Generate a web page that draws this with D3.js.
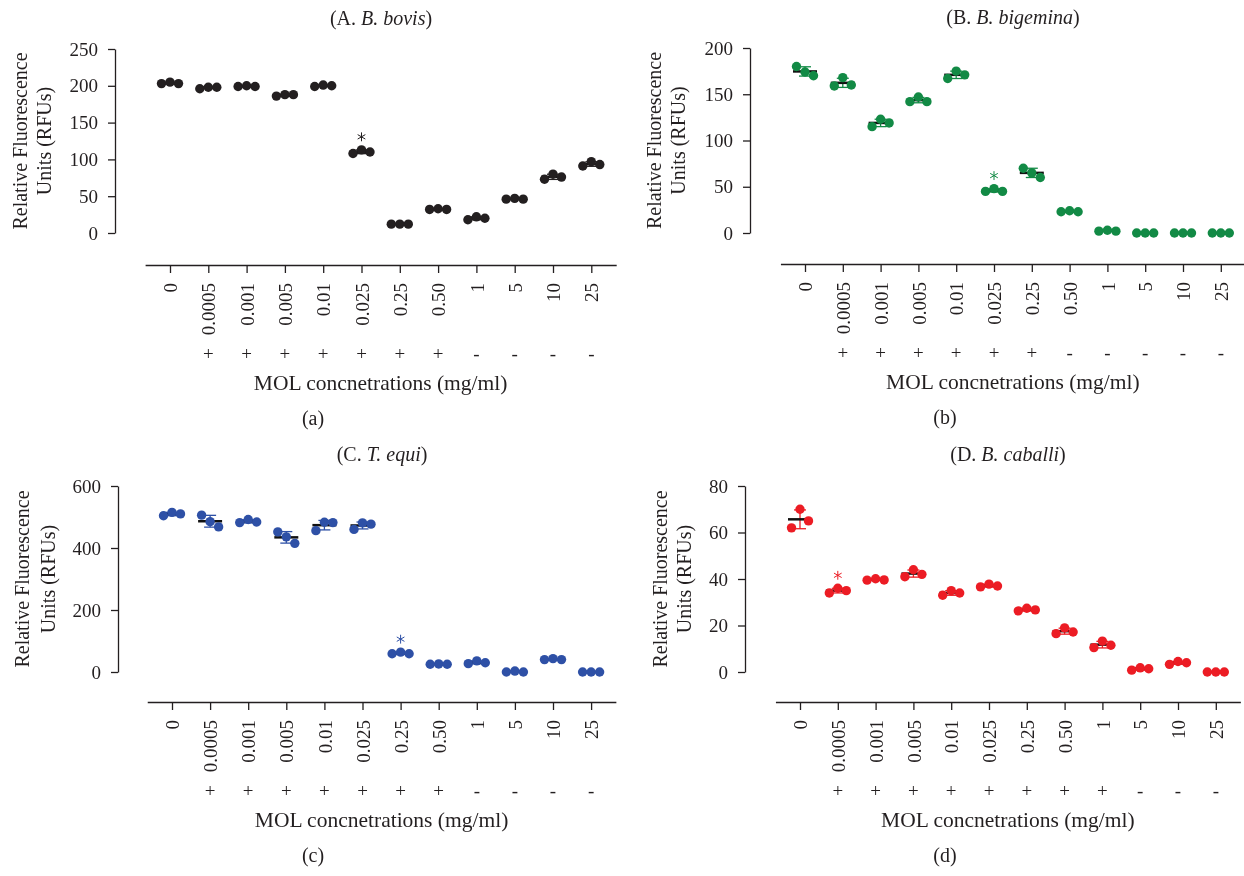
<!DOCTYPE html>
<html>
<head>
<meta charset="utf-8">
<script src="https://cdn.jsdelivr.net/npm/d3@7"></script>
<style>
  body { margin: 0; background: #fff; }
  svg { display: block; font-family: "Liberation Serif", "Times New Roman", serif; will-change: transform; -webkit-font-smoothing: antialiased; }
</style>
</head>
<body>
<div id="chart"></div>
<script>
// ------------------------------------------------------------
// data
// ------------------------------------------------------------
const concLabels = ['0', '0.0005', '0.001', '0.005', '0.01', '0.025', '0.25', '0.50', '1', '5', '10', '25'];

const signsA = ['', '+', '+', '+', '+', '+', '+', '+', '-', '-', '-', '-'];
const signsB = ['', '+', '+', '+', '+', '+', '+', '-', '-', '-', '-', '-'];
const signsC = ['', '+', '+', '+', '+', '+', '+', '+', '-', '-', '-', '-'];
const signsD = ['', '+', '+', '+', '+', '+', '+', '+', '+', '-', '-', '-'];

// three replicate wells per concentration
const bovisRFU = [
  [203, 205, 203], [196, 198, 198], [199, 200, 199], [186, 188, 188],
  [199, 201, 200], [108, 113, 110], [12, 12, 12], [32, 33, 32],
  [18, 22, 20], [46, 47, 46], [73, 80, 76], [91, 97, 93]
];
const bigeminaRFU = [
  [180, 174, 170], [159, 168, 160], [115, 123, 119], [142, 147, 142],
  [167, 175, 171], [45, 48, 45], [70, 65, 60], [23, 24, 23],
  [2, 3, 2], [0, 0, 0], [0, 0, 0], [0, 0, 0]
];
const equiRFU = [
  [504, 515, 510], [506, 485, 468], [482, 492, 484], [452, 436, 415],
  [456, 483, 482], [460, 481, 477], [59, 64, 59], [25, 26, 25],
  [27, 36, 30], [0, 3, 0], [40, 43, 40], [0, 0, 0]
];
const caballiRFU = [
  [62, 70, 65], [34, 36, 35], [39.5, 40.1, 39.6], [41, 44, 42],
  [33, 35, 34], [36.6, 37.8, 37], [26.3, 27.4, 26.7], [16.5, 19, 17.2],
  [10.5, 13.3, 11.5], [0.8, 1.8, 1.4], [3.3, 4.5, 4], [0, 0, 0]
];

const ticksA = [0, 50, 100, 150, 200, 250];
const ticksB = [0, 50, 100, 150, 200];
const ticksC = [0, 200, 400, 600];
const ticksD = [0, 20, 40, 60, 80];

// groups flagged with an asterisk
const starA = ['0.025'];
const starB = ['0.025'];
const starC = ['0.25'];
const starD = ['0.0005'];

// ------------------------------------------------------------
// layout
// ------------------------------------------------------------
const W = 1244, H = 876;
const INK = '#231f20';

const svg = d3.select('#chart').append('svg')
  .attr('width', W).attr('height', H)
  .attr('viewBox', `0 0 ${W} ${H}`);

const panels = [
  { letter: 'A', species: 'B. bovis', tag: '(a)', values: bovisRFU, signs: signsA, ticks: ticksA, stars: starA,
    color: '#231f20', axisX: 115, yZero: 233, yTop: 49, xAxisY: 265, x0: 170, step: 38.3,
    titleX: 381, titleY: 18, tagX: 313, yTitleX: [20, 44] },
  { letter: 'B', species: 'B. bigemina', tag: '(b)', values: bigeminaRFU, signs: signsB, ticks: ticksB, stars: starB,
    color: '#128a45', axisX: 750, yZero: 233, yTop: 48, xAxisY: 264, x0: 805, step: 37.8,
    titleX: 1013, titleY: 17, tagX: 945, yTitleX: [654, 678] },
  { letter: 'C', species: 'T. equi', tag: '(c)', values: equiRFU, signs: signsC, ticks: ticksC, stars: starC,
    color: '#2e50a6', axisX: 118, yZero: 672, yTop: 486, xAxisY: 702, x0: 172, step: 38.1,
    titleX: 382, titleY: 454, tagX: 313, yTitleX: [22, 48] },
  { letter: 'D', species: 'B. caballi', tag: '(d)', values: caballiRFU, signs: signsD, ticks: ticksD, stars: starD,
    color: '#ec1c24', axisX: 745, yZero: 672, yTop: 486, xAxisY: 702, x0: 800, step: 37.8,
    titleX: 1008, titleY: 454, tagX: 945, yTitleX: [660, 684] }
];

panels.forEach(drawPanel);

function drawPanel(p) {
  const g = svg.append('g');
  const pad = 0.65;

  const y = d3.scaleLinear()
    .domain([0, d3.max(p.ticks)])
    .range([p.yZero, p.yTop]);

  const x = d3.scalePoint()
    .domain(concLabels)
    .range([p.x0 - pad * p.step, p.x0 + (concLabels.length - 1 + pad) * p.step])
    .padding(pad);

  // y axis
  const yAxis = g.append('g')
    .attr('transform', `translate(${p.axisX},0)`)
    .call(d3.axisLeft(y).tickValues(p.ticks).tickSize(7).tickSizeOuter(0).tickPadding(10));
  styleAxis(yAxis);

  // x axis (offset below the data)
  const xAxis = g.append('g')
    .attr('transform', `translate(0,${p.xAxisY})`)
    .call(d3.axisBottom(x).tickSize(8).tickSizeOuter(0));
  styleAxis(xAxis);
  xAxis.selectAll('.tick text')
    .attr('y', 0)
    .attr('x', -18)
    .attr('dy', '0.35em')
    .attr('transform', 'rotate(-90)')
    .style('text-anchor', 'end');

  // +/- row
  g.append('g').selectAll('text')
    .data(concLabels)
    .join('text')
    .attr('x', d => x(d))
    .attr('y', p.xAxisY + 88)
    .attr('dy', '0.35em')
    .attr('text-anchor', 'middle')
    .attr('font-size', 19)
    .attr('fill', INK)
    .text((d, i) => p.signs[i]);

  // titles
  const t = g.append('text')
    .attr('x', p.titleX).attr('y', p.titleY).attr('dy', '0.35em')
    .attr('text-anchor', 'middle').attr('font-size', 20).attr('fill', INK);
  t.append('tspan').text(`(${p.letter}. `);
  t.append('tspan').attr('font-style', 'italic').text(p.species);
  t.append('tspan').text(')');

  const xMid = (x.range()[0] + x.range()[1]) / 2;
  g.append('text')
    .attr('x', xMid).attr('y', p.xAxisY + 117).attr('dy', '0.35em')
    .attr('text-anchor', 'middle').attr('font-size', 21.5).attr('fill', INK)
    .text('MOL concnetrations (mg/ml)');

  g.append('text')
    .attr('x', p.tagX).attr('y', p.xAxisY + 153).attr('dy', '0.35em')
    .attr('text-anchor', 'middle').attr('font-size', 20).attr('fill', INK)
    .text(p.tag);

  const yMid = (p.yZero + p.yTop) / 2;
  ['Relative Fluorescence', 'Units (RFUs)'].forEach((line, i) => {
    g.append('text')
      .attr('transform', `translate(${p.yTitleX[i]},${yMid}) rotate(-90)`)
      .attr('dy', '0.35em')
      .attr('text-anchor', 'middle').attr('font-size', 20).attr('fill', INK)
      .text(line);
  });

  // groups: mean +/- SD, then the replicate dots
  const groups = concLabels.map((c, i) => ({
    conc: c,
    vals: p.values[i],
    mean: d3.mean(p.values[i]),
    sd: d3.deviation(p.values[i]) || 0
  }));

  const grp = g.append('g').selectAll('g')
    .data(groups)
    .join('g')
    .attr('transform', d => `translate(${x(d.conc)},0)`);

  grp.append('line')
    .attr('x1', 0).attr('x2', 0)
    .attr('y1', d => y(d.mean - d.sd)).attr('y2', d => y(d.mean + d.sd))
    .attr('stroke', p.color).attr('stroke-width', 1.3);
  grp.selectAll('.cap')
    .data(d => [d.mean - d.sd, d.mean + d.sd])
    .join('line')
    .attr('class', 'cap')
    .attr('x1', -6).attr('x2', 6)
    .attr('y1', v => y(v)).attr('y2', v => y(v))
    .attr('stroke', p.color).attr('stroke-width', 1.3);
  grp.append('line')
    .attr('x1', -12).attr('x2', 12)
    .attr('y1', d => y(d.mean)).attr('y2', d => y(d.mean))
    .attr('stroke', '#111').attr('stroke-width', 2.5);

  grp.selectAll('circle')
    .data(d => d.vals)
    .join('circle')
    .attr('cx', (v, i) => (i - 1) * 8.5)
    .attr('cy', v => y(v))
    .attr('r', 4.7)
    .attr('fill', p.color);

  // significance marks
  const star = d3.symbol().type(d3.symbolAsterisk || d3.symbolCross).size(55);
  grp.filter(d => p.stars.includes(d.conc))
    .append('path')
    .attr('d', star)
    .attr('transform', d => `translate(0,${y(d3.max(d.vals)) - 13})`)
    .attr('fill', 'none')
    .attr('stroke', p.color)
    .attr('stroke-width', 1);
}

function styleAxis(sel) {
  sel.attr('font-family', null).attr('font-size', 19);
  sel.select('.domain').attr('stroke', INK).attr('stroke-width', 1.3);
  sel.selectAll('.tick line').attr('stroke', INK).attr('stroke-width', 1.3);
  sel.selectAll('.tick text').attr('fill', INK);
}
</script>
</body>
</html>
